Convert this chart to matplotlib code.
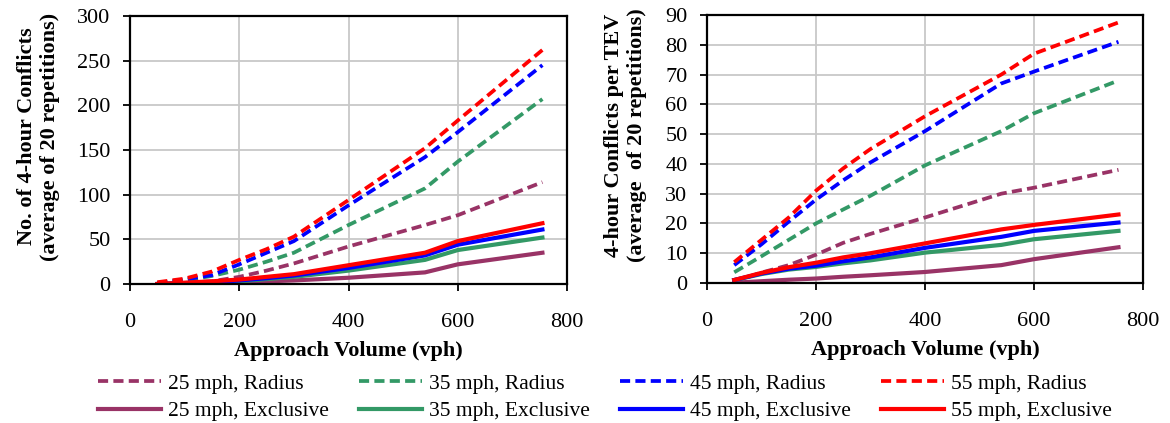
import matplotlib.pyplot as plt

plt.rcParams['font.family'] = 'Liberation Serif'

volume = [50, 100, 150, 200, 250, 300, 400, 540, 600, 755]

# total conflicts (left panel)
conf_25_radius = [1, 2, 3, 8, 15, 23, 42, 66, 77, 114]
conf_35_radius = [1, 4, 9, 16, 25, 35, 66, 107, 137, 207]
conf_45_radius = [1, 5, 10, 22, 35, 48, 88, 142, 170, 245]
conf_55_radius = [2, 6, 14, 27, 39, 53, 94, 152, 183, 262]
conf_25_excl = [0, 0.5, 1, 2, 3, 4, 7, 13, 22, 35]
conf_35_excl = [0, 1, 2, 3, 5.5, 8, 15, 27, 38, 52]
conf_45_excl = [0, 1, 2, 4, 6.5, 9.5, 18, 32, 44, 61]
conf_55_excl = [0, 1.5, 3, 5, 8, 11, 21, 35, 48, 68]

# conflicts per TEV (right panel)
tev_25_radius = [0.5, 3.5, 6, 9.5, 13.5, 16.5, 22, 30, 32, 38]
tev_35_radius = [3.6, 9, 14.5, 20, 24.7, 29.3, 39.5, 51, 57, 68]
tev_45_radius = [6, 13, 20.6, 28, 34.5, 40.5, 51, 67, 71, 81]
tev_55_radius = [7, 14.5, 22, 31, 38.5, 45, 56, 70, 77, 87.5]
tev_25_excl = [0.1, 0.6, 1.1, 1.5, 2.1, 2.6, 3.7, 6, 8, 12]
tev_35_excl = [1, 3, 4.5, 5.4, 6.6, 7.6, 10.2, 12.8, 14.7, 17.5]
tev_45_excl = [1, 3.2, 4.8, 5.8, 7.3, 8.6, 11.8, 15.5, 17.5, 20.3]
tev_55_excl = [1, 3.4, 5.3, 6.8, 8.6, 10, 13.3, 18, 19.5, 23]

speeds = ['25', '35', '45', '55']
colors = ['#993366', '#339966', '#0000ff', '#ff0000']

fig = plt.figure(figsize=(11.7, 4.23), dpi=100)
ax1 = fig.add_axes([130 / 1170, 1 - 284 / 423, 437 / 1170, 268 / 423])
ax2 = fig.add_axes([707 / 1170, 1 - 283 / 423, 436 / 1170, 268 / 423])

left_radius = [conf_25_radius, conf_35_radius, conf_45_radius, conf_55_radius]
left_excl = [conf_25_excl, conf_35_excl, conf_45_excl, conf_55_excl]
right_radius = [tev_25_radius, tev_35_radius, tev_45_radius, tev_55_radius]
right_excl = [tev_25_excl, tev_35_excl, tev_45_excl, tev_55_excl]

handles = []
for ax, radius, excl in [(ax1, left_radius, left_excl), (ax2, right_radius, right_excl)]:
    hs = []
    for sp, c, r, e in zip(speeds, colors, radius, excl):
        h1, = ax.plot(volume, r, color=c, lw=2.7, ls=(0, (2.7, 1.4)),
                      label=sp + ' mph, Radius')
        h2, = ax.plot(volume, e, color=c, lw=3.0, label=sp + ' mph, Exclusive')
        hs += [h1, h2]
    handles = hs

for ax in (ax1, ax2):
    ax.set_xlim(0, 800)
    ax.set_xticks(range(0, 801, 200))
    ax.grid(True, color='#c8c8c8', lw=1.3)
    ax.set_axisbelow(True)
    for s in ax.spines.values():
        s.set_linewidth(1.6)
    ax.tick_params(labelsize=16, width=1.3, length=5, direction='out')
    ax.tick_params(axis='x', pad=16)
    ax.tick_params(axis='y', pad=9)
    ax.set_xlabel('Approach Volume (vph)', fontsize=16, fontweight='bold')
    ax.xaxis.set_label_coords(0.5, -0.212)

ax1.set_ylim(0, 300)
ax1.set_yticks(range(0, 301, 50))
ax1.set_ylabel('No. of 4-hour Conflicts\n(average of 20 repetitions)',
               fontsize=16, fontweight='bold')
ax1.yaxis.set_label_coords(-0.16, 0.55)

ax2.set_ylim(0, 90)
ax2.set_yticks(range(0, 91, 10))
ax2.set_ylabel('4-hour Conflicts per TEV\n(average  of 20 repetitions)',
               fontsize=16, fontweight='bold')
ax2.yaxis.set_label_coords(-0.138, 0.55)

fig.legend(handles=handles, ncol=4, loc='center', bbox_to_anchor=(0.517, 0.06),
           frameon=False, fontsize=15.5, handlelength=2.93, handletextpad=0.33,
           columnspacing=1.4, labelspacing=0.35)

fig.savefig('out.png', dpi=100)
